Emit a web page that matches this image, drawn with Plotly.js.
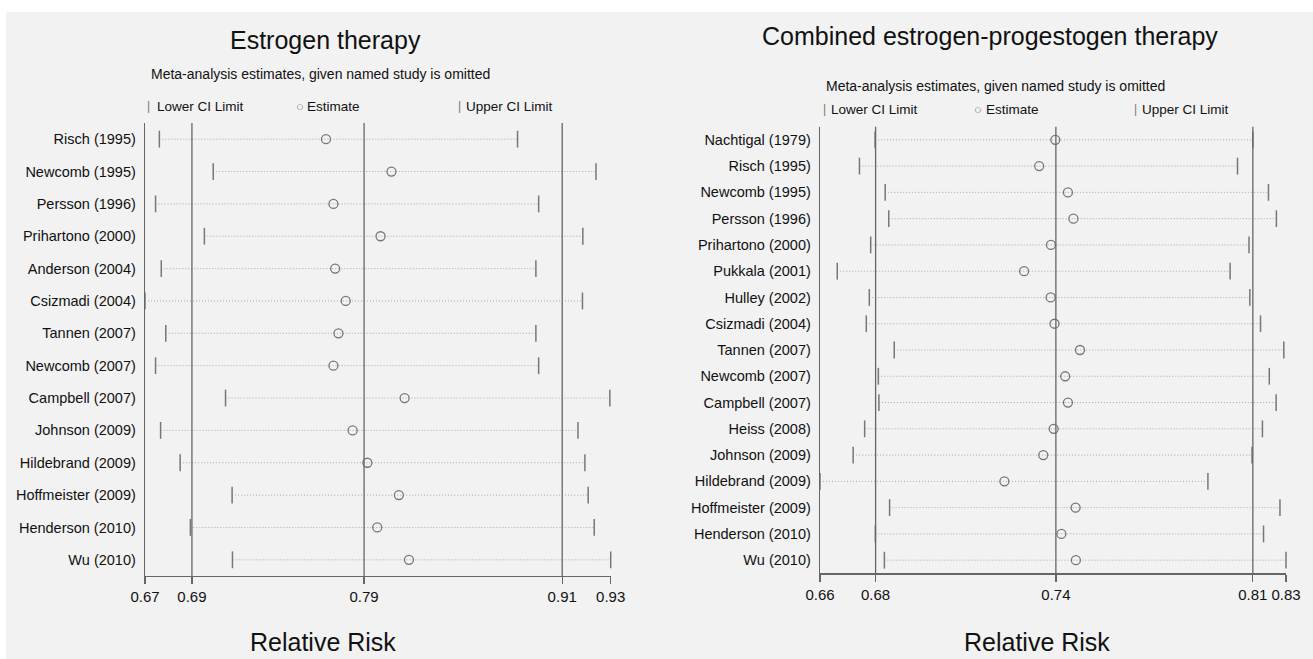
<!DOCTYPE html>
<html>
<head>
<meta charset="utf-8">
<script src="https://cdn.plot.ly/plotly-3.0.1.min.js"></script>
<style>
  html, body { margin: 0; padding: 0; background: #ffffff; }
  #chart { width: 1313px; height: 659px; }
</style>
</head>
<body>
<div id="chart"></div>
<script>
// ---------- Estrogen therapy ----------
const studiesE = ["Risch (1995)", "Newcomb (1995)", "Persson (1996)", "Prihartono (2000)", "Anderson (2004)",
  "Csizmadi (2004)", "Tannen (2007)", "Newcomb (2007)", "Campbell (2007)", "Johnson (2009)",
  "Hildebrand (2009)", "Hoffmeister (2009)", "Henderson (2010)", "Wu (2010)"];
const lowerE = [0.6743, 0.7054, 0.6721, 0.7003, 0.6754, 0.6660, 0.6780, 0.6721, 0.7125, 0.6750, 0.6863, 0.7163, 0.6922, 0.7165];
const estE   = [0.7705, 0.8083, 0.7748, 0.8020, 0.7758, 0.7819, 0.7777, 0.7748, 0.8159, 0.7859, 0.7944, 0.8126, 0.8001, 0.8184];
const upperE = [0.8811, 0.9264, 0.8933, 0.9188, 0.8917, 0.9186, 0.8917, 0.8933, 0.9344, 0.9160, 0.9200, 0.9219, 0.9254, 0.9349];
const overallE = [0.6931, 0.7925, 0.9069];           // lower CI, estimate, upper CI
const tickValsE = [0.6660, 0.6931, 0.7925, 0.9069, 0.9349];
const tickTextE = ["0.67", "0.69", "0.79", "0.91", "0.93"];

// ---------- Combined estrogen-progestogen therapy ----------
const studiesC = ["Nachtigal (1979)", "Risch (1995)", "Newcomb (1995)", "Persson (1996)", "Prihartono (2000)",
  "Pukkala (2001)", "Hulley (2002)", "Csizmadi (2004)", "Tannen (2007)", "Newcomb (2007)", "Campbell (2007)",
  "Heiss (2008)", "Johnson (2009)", "Hildebrand (2009)", "Hoffmeister (2009)", "Henderson (2010)", "Wu (2010)"];
const lowerC = [0.6761, 0.6704, 0.6798, 0.6811, 0.6745, 0.6623, 0.6740, 0.6729, 0.6831, 0.6773, 0.6775, 0.6723, 0.6681, 0.6560, 0.6814, 0.6762, 0.6795];
const estC   = [0.7419, 0.7360, 0.7465, 0.7485, 0.7403, 0.7305, 0.7402, 0.7416, 0.7509, 0.7455, 0.7465, 0.7413, 0.7375, 0.7233, 0.7493, 0.7441, 0.7494];
const upperC = [0.8140, 0.8084, 0.8197, 0.8226, 0.8126, 0.8057, 0.8129, 0.8168, 0.8253, 0.8200, 0.8225, 0.8175, 0.8137, 0.7976, 0.8239, 0.8179, 0.8261];
const overallC = [0.6763, 0.7421, 0.8140];
const tickValsC = [0.6560, 0.6763, 0.7421, 0.8140, 0.8261];
const tickTextC = ["0.66", "0.68", "0.74", "0.81", "0.83"];

// ---------- styling ----------
const W = 1313, H = 659;
const px = v => v / W;
const py = v => 1 - v / H;
const font = "Liberation Sans, Arial, sans-serif";
const axisCol = "#666666";
const markCol = "#777777";

function panelTraces(studies, lo, est, up, xa, ya) {
  const lx = [], ly = [];
  studies.forEach((s, i) => { lx.push(lo[i], up[i], null); ly.push(s, s, null); });
  return [
    { type: "scatter", mode: "lines", x: lx, y: ly, xaxis: xa, yaxis: ya, connectgaps: false,
      line: { color: "#a8a8a8", width: 1, dash: "1px,2px" }, hoverinfo: "skip", showlegend: false },
    { type: "scatter", mode: "markers", x: lo, y: studies, xaxis: xa, yaxis: ya, cliponaxis: false,
      marker: { symbol: "line-ns", size: 12, line: { color: markCol, width: 1.5 } }, showlegend: false },
    { type: "scatter", mode: "markers", x: up, y: studies, xaxis: xa, yaxis: ya, cliponaxis: false,
      marker: { symbol: "line-ns", size: 12, line: { color: markCol, width: 1.5 } }, showlegend: false },
    { type: "scatter", mode: "markers", x: est, y: studies, xaxis: xa, yaxis: ya, cliponaxis: false,
      marker: { symbol: "circle-open", size: 9, color: markCol, line: { color: markCol, width: 1.3 } }, showlegend: false }
  ];
}

const data = [
  ...panelTraces(studiesE, lowerE, estE, upperE, "x", "y"),
  ...panelTraces(studiesC, lowerC, estC, upperC, "x2", "y2")
];

function xAxis(domain, lo, up, vals, text, anchor) {
  return {
    domain: domain, range: [Math.min(...lo), Math.max(...up)], anchor: anchor,
    showgrid: false, zeroline: false, showline: true, linecolor: axisCol, linewidth: 1.3,
    ticks: "outside", ticklen: 7, tickwidth: 1.3, tickcolor: axisCol, tickangle: 0,
    ticklabeloverflow: "allow",
    tickvals: vals, ticktext: text, tickfont: { family: font, size: 15, color: "#111" }
  };
}
function yAxis(domain, studies, anchor) {
  return {
    domain: domain, type: "category", categoryorder: "array", categoryarray: studies,
    range: [studies.length - 0.5, -0.5], anchor: anchor,
    showgrid: false, zeroline: false, showline: true, linecolor: axisCol, linewidth: 1.3,
    ticks: "", ticklabelstandoff: 5, tickfont: { family: font, size: 14.5, color: "#111" }
  };
}

const shapes = [
  { type: "rect", xref: "paper", yref: "paper", x0: px(6), x1: 1, y0: 0, y1: py(12),
    fillcolor: "#f2f2f2", line: { width: 0 }, layer: "below" }
];
overallE.forEach(v => shapes.push({ type: "line", xref: "x", yref: "y domain", x0: v, x1: v, y0: 0, y1: 1,
  line: { color: axisCol, width: 1.3 }, layer: "above" }));
overallC.forEach(v => shapes.push({ type: "line", xref: "x2", yref: "y2 domain", x0: v, x1: v, y0: 0, y1: 1,
  line: { color: axisCol, width: 1.3 }, layer: "above" }));

function ann(text, x, y, size, anchor, color) {
  return { text: text, xref: "paper", yref: "paper", x: px(x), y: py(y), xanchor: anchor || "center",
    yanchor: "middle", showarrow: false, font: { family: font, size: size, color: color || "#111" } };
}

const annotations = [
  ann("Estrogen therapy", 325, 40, 25),
  ann("Combined estrogen-progestogen therapy", 990, 36, 25),
  ann("Meta-analysis estimates, given named study is omitted", 320, 74, 14),
  ann("Meta-analysis estimates, given named study is omitted", 995, 86, 14),
  ann("|", 148, 106, 12, "center", "#777"),
  ann("Lower CI Limit", 155, 106, 13.5, "left"),
  ann("○", 300, 106, 13, "center", "#777"),
  ann("Estimate", 305, 106, 13.5, "left"),
  ann("|", 460, 106, 12, "center", "#777"),
  ann("Upper CI Limit", 464, 106, 13.5, "left"),
  ann("|", 824, 109, 12, "center", "#777"),
  ann("Lower CI Limit", 829, 109, 13.5, "left"),
  ann("○", 978, 109, 13, "center", "#777"),
  ann("Estimate", 984, 109, 13.5, "left"),
  ann("|", 1135, 109, 12, "center", "#777"),
  ann("Upper CI Limit", 1140, 109, 13.5, "left"),
  ann("Relative Risk", 323, 642, 25),
  ann("Relative Risk", 1037, 642, 25)
];

const layout = {
  width: W, height: H, margin: { l: 0, r: 0, t: 0, b: 0, pad: 0 },
  paper_bgcolor: "#ffffff", plot_bgcolor: "rgba(0,0,0,0)", showlegend: false,
  xaxis: xAxis([px(145), px(610.7)], lowerE, upperE, tickValsE, tickTextE, "y"),
  yaxis: yAxis([py(576), py(123)], studiesE, "x"),
  xaxis2: xAxis([px(820), px(1286)], lowerC, upperC, tickValsC, tickTextC, "y2"),
  yaxis2: yAxis([py(573.3), py(126.7)], studiesC, "x2"),
  shapes: shapes, annotations: annotations
};

Plotly.newPlot("chart", data, layout, { staticPlot: true, displayModeBar: false });
</script>
</body>
</html>
